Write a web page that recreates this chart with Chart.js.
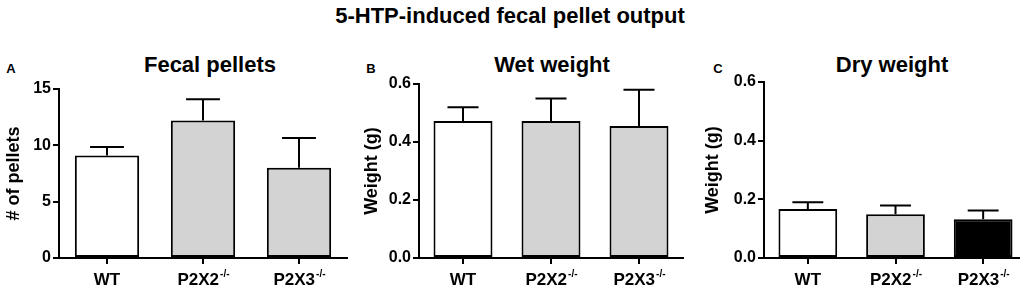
<!DOCTYPE html>
<html>
<head>
<meta charset="utf-8">
<script src="https://cdn.jsdelivr.net/npm/chart.js@4.4.1/dist/chart.umd.min.js"></script>
<style>
  body { margin: 0; background: #fff; width: 1020px; height: 295px; overflow: hidden; position: relative; font-family: "Liberation Sans", Arial, sans-serif; }
  canvas { position: absolute; top: 70px; }
  .txt { position: absolute; font-weight: bold; color: #000; white-space: nowrap; transform: translate(-50%, -50%); }
  .main { font-size: 22px; left: 510px; top: 16px; }
  .ptitle { font-size: 22px; top: 65px; }
  .letter { font-size: 13px; top: 68px; }
</style>
</head>
<body>
<div class="txt main">5-HTP-induced fecal pellet output</div>
<div class="txt letter" style="left:11px">A</div>
<div class="txt letter" style="left:371px">B</div>
<div class="txt letter" style="left:718px">C</div>
<div class="txt ptitle" style="left:210px">Fecal pellets</div>
<div class="txt ptitle" style="left:552px">Wet weight</div>
<div class="txt ptitle" style="left:892px">Dry weight</div>

<canvas id="pellets" width="350" height="225" style="left:0px"></canvas>
<canvas id="wet" width="326" height="225" style="left:360px"></canvas>
<canvas id="dry" width="330" height="225" style="left:700px"></canvas>

<script>
// --- DATA ---
const groups = ['WT', 'P2X2', 'P2X3'];
const groupSup = ['', '-/-', '-/-'];

const pelletMeans = [9.1, 12.2, 8.0];
const pelletSem = [0.75, 1.9, 2.65];

const wetMeans = [0.472, 0.472, 0.455];
const wetSem = [0.048, 0.078, 0.125];

const dryMeans = [0.167, 0.149, 0.132];
const drySem = [0.023, 0.030, 0.030];

const pelletTicks = [0, 5, 10, 15];
const weightTicks = [0.0, 0.2, 0.4, 0.6];

const greyColors = ['#ffffff', '#d3d3d3', '#d3d3d3'];
const dryColors = ['#ffffff', '#d3d3d3', '#000000'];

Chart.defaults.font.family = '"Liberation Sans", Arial, sans-serif';
Chart.defaults.color = '#000';

// error bars (mean + SEM, upward only) and x labels with superscripts
const semPlugin = {
    id: 'sem',
    afterDatasetsDraw(chart, args, opts) {
        const ctx = chart.ctx;
        const y = chart.scales.y;
        const meta = chart.getDatasetMeta(0);
        ctx.save();
        ctx.strokeStyle = '#000';
        ctx.lineWidth = 2;
        meta.data.forEach((bar, i) => {
            const top = y.getPixelForValue(opts.means[i]);
            const end = y.getPixelForValue(opts.means[i] + opts.sem[i]);
            const half = bar.width / 3.8;
            ctx.beginPath();
            ctx.moveTo(bar.x, top);
            ctx.lineTo(bar.x, end);
            ctx.moveTo(bar.x - half, end);
            ctx.lineTo(bar.x + half, end);
            ctx.stroke();
        });
        ctx.restore();
    },
    afterDraw(chart) {
        const ctx = chart.ctx;
        const x = chart.scales.x;
        const base = chart.chartArea.bottom + 22;
        ctx.save();
        ctx.fillStyle = '#000';
        ctx.textBaseline = 'middle';
        groups.forEach((g, i) => {
            const cx = x.getPixelForTick(i);
            ctx.font = 'bold 17px "Liberation Sans", Arial';
            const w1 = ctx.measureText(g).width;
            ctx.font = 'bold 10px "Liberation Sans", Arial';
            const w2 = groupSup[i] ? ctx.measureText(groupSup[i]).width : 0;
            const start = cx - (w1 + w2) / 2;
            ctx.textAlign = 'left';
            ctx.font = 'bold 17px "Liberation Sans", Arial';
            ctx.fillText(g, start, base);
            if (groupSup[i]) {
                ctx.font = 'bold 10px "Liberation Sans", Arial';
                ctx.fillText(groupSup[i], start + w1 + 1, base - 6);
            }
        });
        ctx.restore();
    }
};

function makeChart(id, means, sem, colors, tickVals, yTitle, box) {
    const ctx = document.getElementById(id).getContext('2d');
    return new Chart(ctx, {
        type: 'bar',
        data: {
            labels: groups,
            datasets: [{
                data: means,
                backgroundColor: colors,
                borderColor: '#000',
                borderWidth: 2,
                borderSkipped: false,
                categoryPercentage: 1,
                barPercentage: 0.67
            }]
        },
        options: {
            responsive: false,
            animation: false,
            layout: { padding: { top: box.padTop, right: box.padRight, left: 0, bottom: 0 } },
            plugins: {
                legend: { display: false },
                tooltip: { enabled: false },
                sem: { means: means, sem: sem }
            },
            scales: {
                x: {
                    offset: true,
                    afterFit: s => { s.height = box.xHeight; },
                    grid: { offset: false, drawOnChartArea: false, color: '#000', lineWidth: 2, tickLength: 6 },
                    border: { color: '#000', width: 2 },
                    ticks: { display: false }
                },
                y: {
                    min: tickVals[0],
                    max: tickVals[tickVals.length - 1],
                    afterFit: s => { s.width = box.yWidth; },
                    afterBuildTicks: s => { s.ticks = tickVals.map(v => ({ value: v })); },
                    grid: { drawOnChartArea: false, color: '#000', lineWidth: 2, tickLength: 6 },
                    border: { color: '#000', width: 2 },
                    ticks: {
                        padding: 2,
                        font: { size: 16, weight: 'bold' },
                        callback: v => box.decimals ? v.toFixed(box.decimals) : String(v)
                    },
                    title: {
                        display: true,
                        text: yTitle,
                        font: { size: 18, weight: 'bold' },
                        padding: { top: box.titlePad, bottom: 0 }
                    }
                }
            }
        },
        plugins: [semPlugin]
    });
}

makeChart('pellets', pelletMeans, pelletSem, greyColors, pelletTicks, '# of pellets',
    { padTop: 19, padRight: 3, xHeight: 37, yWidth: 59, titlePad: 3, decimals: 0 });
makeChart('wet', wetMeans, wetSem, greyColors, weightTicks, 'Weight (g)',
    { padTop: 14, padRight: 3, xHeight: 37, yWidth: 59, titlePad: 1, decimals: 1 });
makeChart('dry', dryMeans, drySem, dryColors, weightTicks, 'Weight (g)',
    { padTop: 12, padRight: 3, xHeight: 37, yWidth: 64, titlePad: 2, decimals: 1 });
</script>
</body>
</html>
